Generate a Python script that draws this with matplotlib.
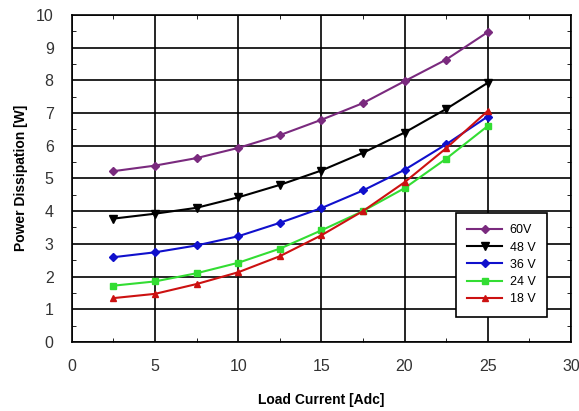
import numpy as np
import matplotlib
matplotlib.use('Agg')
import matplotlib.pyplot as plt
from matplotlib.ticker import MultipleLocator

# Load current [Adc]
current = [2.5, 5, 7.5, 10, 12.5, 15, 17.5, 20, 22.5, 25]

# Power dissipation [W] per input voltage
p_60v = [5.22, 5.39, 5.62, 5.93, 6.32, 6.79, 7.30, 7.97, 8.63, 9.47]
p_48v = [3.77, 3.92, 4.10, 4.42, 4.80, 5.24, 5.78, 6.40, 7.12, 7.92]
p_36v = [2.59, 2.74, 2.95, 3.23, 3.64, 4.09, 4.63, 5.26, 6.04, 6.89]
p_24v = [1.72, 1.85, 2.10, 2.42, 2.85, 3.41, 4.00, 4.70, 5.60, 6.60]
p_18v = [1.34, 1.47, 1.77, 2.13, 2.62, 3.26, 4.00, 4.88, 5.92, 7.06]

labels = ['60V', '48 V', '36 V', '24 V', '18 V']

plt.rcParams['font.family'] = ['Liberation Sans', 'DejaVu Sans']

fig = plt.figure(figsize=(5.79, 4.11), dpi=100)
ax = fig.add_axes([0.124, 0.168, 0.862, 0.796])

ax.plot(current, p_60v, '-D', color='#7a2a7e', ms=4.5, lw=1.5, label=labels[0])
ax.plot(current, p_48v, '-v', color='black', ms=5.5, lw=1.5, label=labels[1])
ax.plot(current, p_36v, '-D', color='#1010cc', ms=4.5, lw=1.5, label=labels[2])
ax.plot(current, p_24v, '-s', color='#33dd33', ms=4.5, lw=1.5, label=labels[3])
ax.plot(current, p_18v, '-^', color='#cc1111', ms=4.5, lw=1.5, label=labels[4])

ax.set_xlim(0, 30)
ax.set_ylim(0, 10)
ax.xaxis.set_major_locator(MultipleLocator(5))
ax.xaxis.set_minor_locator(MultipleLocator(2.5))
ax.yaxis.set_major_locator(MultipleLocator(1))
ax.yaxis.set_minor_locator(MultipleLocator(0.5))
ax.grid(True, which='major', color='black', lw=1.2)
ax.set_axisbelow(True)
ax.tick_params(which='both', direction='in', top=True, right=True, labelsize=11.5,
               labelcolor='#333333')
ax.tick_params(which='major', length=0)
ax.tick_params(axis='x', which='major', pad=12)
ax.tick_params(axis='y', which='major', pad=13)
ax.tick_params(which='minor', length=3)
for s in ax.spines.values():
    s.set_linewidth(1.2)

ax.set_xlabel('Load Current [Adc]', fontsize=10, fontweight='bold', labelpad=14)
ax.set_ylabel('Power Dissipation [W]', fontsize=10, fontweight='bold', labelpad=6)

leg = ax.legend(loc='upper left', bbox_to_anchor=(0.77, 0.394),
                fontsize=9, frameon=True, fancybox=False,
                handlelength=2.8, handletextpad=0.6, borderpad=0.9,
                labelspacing=0.42, borderaxespad=0)
leg.get_frame().set_edgecolor('black')
leg.get_frame().set_linewidth(1.2)
leg.get_frame().set_alpha(1)

fig.savefig('out.png', dpi=100)
